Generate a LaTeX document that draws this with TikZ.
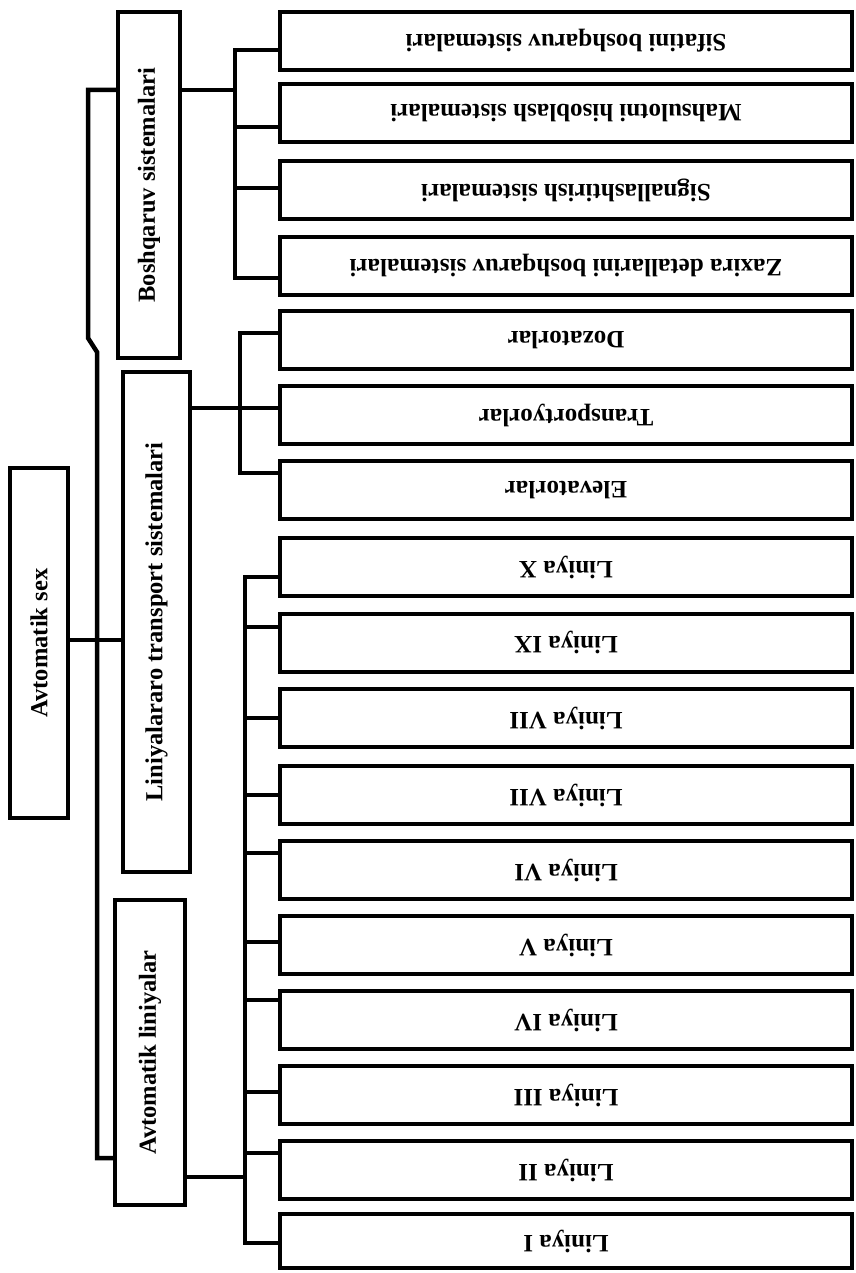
\documentclass[tikz,border=0pt]{standalone}
\usepackage{fontspec}
\setmainfont{Liberation Serif}
\begin{document}
\begin{tikzpicture}[x=1pt,y=-1pt,
  box/.style={draw, line width=4pt, inner sep=0pt, font=\bfseries\fontsize{24.5}{28}\selectfont},
  rbox/.style={box, minimum width=572pt, minimum height=58pt, font=\bfseries\fontsize{25}{28}\selectfont},
  conn/.style={line width=4.5pt, line cap=rect}]
\useasboundingbox (0,0) rectangle (855,1273);

% right column boxes
\node[rbox] (r1)  at (566,41)   {\rotatebox{180}{Sifatini boshqaruv sistemalari}};
\node[rbox] (r2)  at (566,113.5){\rotatebox{180}{Mahsulotni hisoblash sistemalari}};
\node[rbox] (r3)  at (566,190)  {\rotatebox{180}{Signallashtirish sistemalari}};
\node[rbox] (r4)  at (566,266)  {\rotatebox{180}{Zaxira detallarini boshqaruv sistemalari}};
\node[rbox] (r5)  at (566,340)  {\rotatebox{180}{Dozatorlar}};
\node[rbox] (r6)  at (566,415)  {\rotatebox{180}{Transportyorlar}};
\node[rbox] (r7)  at (566,490)  {\rotatebox{180}{Elevatorlar}};
\node[rbox] (r8)  at (566,567)  {\rotatebox{180}{Liniya X}};
\node[rbox] (r9)  at (566,642.5){\rotatebox{180}{Liniya IX}};
\node[rbox] (r10) at (566,718)  {\rotatebox{180}{Liniya VII}};
\node[rbox] (r11) at (566,795)  {\rotatebox{180}{Liniya VII}};
\node[rbox] (r12) at (566,870)  {\rotatebox{180}{Liniya VI}};
\node[rbox] (r13) at (566,945)  {\rotatebox{180}{Liniya V}};
\node[rbox] (r14) at (566,1020) {\rotatebox{180}{Liniya IV}};
\node[rbox] (r15) at (566,1095) {\rotatebox{180}{Liniya III}};
\node[rbox] (r16) at (566,1170) {\rotatebox{180}{Liniya II}};
\node[rbox, minimum height=54pt] (r17) at (566,1241) {\rotatebox{180}{Liniya I}};

% middle column
\node[box, minimum width=62pt, minimum height=346pt] (bs) at (149,185) {\rotatebox{90}{Boshqaruv sistemalari}};
\node[box, minimum width=67pt, minimum height=500pt] (lt) at (156.5,622) {\rotatebox{90}{Liniyalararo transport sistemalari}};
\node[box, minimum width=70pt, minimum height=305pt] (al) at (150,1052.5) {\rotatebox{90}{Avtomatik liniyalar}};

% root
\node[box, minimum width=58pt, minimum height=350pt] (sx) at (39,643) {\rotatebox{90}{Avtomatik sex}};

% outer bus
\coordinate (o1) at (88,90);
\coordinate (o2) at (88,338);
\coordinate (o3) at (97,352);
\coordinate (o4) at (97,1158);
\draw[conn] (o1 -| bs.west) -- (o1) -- (o2) -- (o3) -- (o4) -- (o4 -| al.west);
\coordinate (sxr) at (68,640);
\draw[conn] (sx.east |- sxr) -- (lt.west |- sxr);

% bus 1 (Boshqaruv)
\coordinate (q1t) at (235,50);
\coordinate (q1b) at (235,278);
\coordinate (q1m) at (235,90);
\draw[conn] (q1t) -- (q1b);
\draw[conn] (bs.east |- q1m) -- (q1m);
\draw[conn] (q1t) -- (q1t -| r1.west);
\foreach \n/\yy in {r2/127, r3/188, r4/278}{
  \coordinate (s\n) at (235,\yy);
  \draw[conn] (s\n) -- (s\n -| \n.west);
}

% bus 2 (Liniyalararo)
\coordinate (q2t) at (240,333);
\coordinate (q2b) at (240,473);
\coordinate (q2m) at (240,408);
\draw[conn] (q2t) -- (q2b);
\draw[conn] (q2t) -- (q2t -| r5.west);
\draw[conn] (lt.east |- q2m) -- (q2m -| r6.west);
\draw[conn] (q2b) -- (q2b -| r7.west);

% bus 3 (Liniya)
\coordinate (q3t) at (245,577);
\coordinate (q3b) at (245,1243);
\coordinate (q3m) at (245,1177);
\draw[conn] (q3t) -- (q3b);
\draw[conn] (al.east |- q3m) -- (q3m);
\foreach \n/\yy in {r8/577, r9/627, r10/718, r11/795, r12/853, r13/942, r14/1000, r15/1092, r16/1153, r17/1243}{
  \coordinate (t\n) at (245,\yy);
  \draw[conn] (t\n) -- (t\n -| \n.west);
}
\end{tikzpicture}
\end{document}
